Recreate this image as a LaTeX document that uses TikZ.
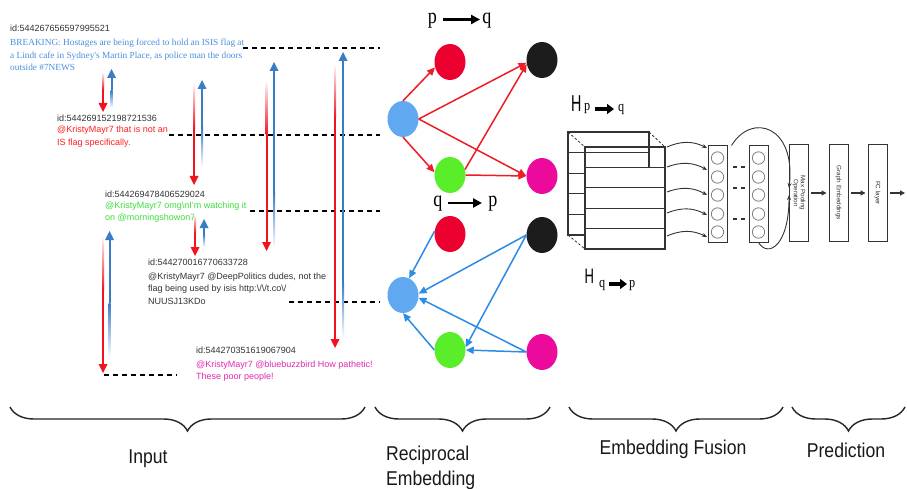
\documentclass[tikz,border=0pt]{standalone}
\usepackage{fontspec}
\usepackage{graphicx}
\setmainfont{Liberation Sans}
\newfontfamily\twserif{Liberation Serif}
\newfontfamily\gserif{Liberation Serif}[FakeStretch=0.82]
\newfontfamily\cond{Liberation Sans}[FakeStretch=0.88]
\newfontfamily\hfont{Liberation Sans}[FakeStretch=0.62]
\usetikzlibrary{arrows.meta,shapes.geometric,decorations.pathreplacing}

\definecolor{twblue}{HTML}{4A8FE0}
\definecolor{twred}{HTML}{FF1F1F}
\definecolor{twgreen}{HTML}{3FDD3F}
\definecolor{twmag}{HTML}{E02AAE}
\definecolor{idgray}{HTML}{333333}
\definecolor{arrred}{HTML}{F2131F}
\definecolor{arrblue}{HTML}{3A7CC6}
\definecolor{nred}{HTML}{EC0030}
\definecolor{nblack}{HTML}{1C1C1C}
\definecolor{nblue}{HTML}{60A8F0}
\definecolor{ngreen}{HTML}{5AEE2A}
\definecolor{nmag}{HTML}{EC0A9C}
\definecolor{edgered}{HTML}{EE1C24}
\definecolor{edgeblue}{HTML}{2B8BE6}
\definecolor{boxgray}{HTML}{333333}

% reply arrow pointing down: colour, x, tail y (top), head y (bottom)
\newcommand\fallarrow[4]{%
  \pgfmathsetmacro\fadeend{#3+min(0.45*(#4-#3),55)}%
  \shade[top color=white, bottom color=#1] ({#2-1},#3) rectangle ({#2+1},\fadeend);
  \fill[#1] ({#2-1},\fadeend) rectangle ({#2+1},{#4-8});
  \fill[#1] ({#2-4.5},{#4-9}) -- ({#2+4.5},{#4-9}) -- (#2,#4) -- cycle;
}
% reply arrow pointing up: colour, x, tail y (bottom), head y (top)
\newcommand\risearrow[4]{%
  \pgfmathsetmacro\fadeend{#3-min(0.45*(#3-#4),55)}%
  \fill[#1] ({#2-1},{#4+8}) rectangle ({#2+1},\fadeend);
  \shade[top color=#1, bottom color=white] ({#2-1},\fadeend) rectangle ({#2+1},#3);
  \fill[#1] ({#2-4.5},{#4+9}) -- ({#2+4.5},{#4+9}) -- (#2,#4) -- cycle;
}

\begin{document}
\begin{tikzpicture}[x=1pt, y=-1pt,
  idtext/.style={anchor=base west, inner sep=0pt, text=idgray, font=\fontsize{9}{11}\selectfont},
  twline/.style={anchor=base west, inner sep=0pt, font=\fontsize{9}{11}\selectfont},
  blueline/.style={anchor=base west, inner sep=0pt, text=twblue, font=\twserif\fontsize{9.3}{11}\selectfont},
  gapline/.style={line width=1.8pt, dash pattern=on 5pt off 4pt, black},
  gnode/.style={ellipse, minimum width=31pt, minimum height=36pt, inner sep=0pt},
  redge/.style={edgered, line width=1.5pt, -{Triangle[length=8pt,width=7pt]}},
  bedge/.style={edgeblue, line width=1.5pt, -{Triangle[length=8pt,width=7pt]}},
  glabel/.style={anchor=base, inner sep=0pt, font=\gserif\fontsize{22}{22}\selectfont},
  labarrow/.style={line width=2.4pt, -{Triangle[length=9pt,width=9pt]}},
  harrow/.style={line width=3.2pt, -{Triangle[length=7pt,width=10pt]}},
  stackline/.style={line width=1.1pt, boxgray},
  fusearr/.style={line width=0.9pt, boxgray, -{Stealth[length=5pt,width=4pt]}},
  col/.style={draw=boxgray, line width=1pt, minimum width=19pt, minimum height=96pt, inner sep=0pt},
  unit/.style={draw=gray, line width=0.8pt},
  layer/.style={draw=boxgray, line width=1pt, minimum width=19pt, minimum height=96pt, inner sep=0pt},
  layertext/.style={rotate=-90, align=center, inner sep=0pt, text=boxgray, font=\fontsize{6.3}{7}\selectfont},
  flowarr/.style={line width=1.2pt, boxgray, -{Triangle[length=5pt,width=5pt]}, shorten <=2pt, shorten >=2pt},
  brace/.style={decorate, decoration={brace, mirror, amplitude=24pt}, line width=1.4pt, black!85},
  stage/.style={inner sep=0pt, font=\cond\fontsize{20}{23}\selectfont, text=black!90}
]
\useasboundingbox (0,0) rectangle (907,489);
\fill[white] (0,0) rectangle (907,489);

% ---------------- conversation thread ----------------
\node[idtext] (id1) at (10,32) {id:544267656597995521};
\node[blueline] (t1a) at (10,46) {BREAKING: Hostages are being forced to hold an ISIS flag at};
\node[blueline] (t1b) at (10,58.5) {a Lindt cafe in Sydney's Martin Place, as police man the doors};
\node[blueline] (t1c) at (10,71) {outside \#7NEWS};

\node[idtext] (id2) at (57,122) {id:544269152198721536};
\node[twline, text=twred] (t2a) at (57,133) {@KristyMayr7 that is not an};
\node[twline, text=twred] (t2b) at (57,145.5) {IS flag specifically.};

\node[idtext] (id3) at (105,197) {id:544269478406529024};
\node[twline, text=twgreen] (t3a) at (105,208.5) {@KristyMayr7 omg\textbackslash nI'm watching it};
\node[twline, text=twgreen] (t3b) at (105,220) {on @morningshowon7};

\node[idtext] (id4) at (148,265.5) {id:544270016770633728};
\node[twline, text=idgray] (t4a) at (148,279) {@KristyMayr7 @DeepPolitics dudes, not the};
\node[twline, text=idgray] (t4b) at (148,291.5) {flag being used by isis http:\textbackslash/\textbackslash/t.co\textbackslash/};
\node[twline, text=idgray] (t4c) at (148,304) {NUUSJ13KDo};

\node[idtext] (id5) at (196,353) {id:544270351619067904};
\node[twline, text=twmag] (t5a) at (196,367) {@KristyMayr7 @bluebuzzbird How pathetic!};
\node[twline, text=twmag] (t5b) at (196,379.5) {These poor people!};

% dashed leaders towards the graph
\coordinate (d1) at (380,48);
\coordinate (d2) at (380,135);
\coordinate (d3) at (380,211);
\coordinate (d4) at (380,302);
\draw[gapline] (243,48) -- (d1);
\draw[gapline] (169,135) -- (d2);
\draw[gapline] (250,211) -- (d3);
\draw[gapline] (289,302) -- (d4);
\draw[gapline] (104,375) -- (177,375);

% reply / response arrows
\fallarrow{arrred}{103}{72}{112}
\risearrow{arrblue}{111.5}{108}{69}
\fallarrow{arrred}{194}{82}{185}
\risearrow{arrblue}{202}{167}{80}
\fallarrow{arrred}{266.5}{80}{251}
\risearrow{arrblue}{274}{248}{62}
\fallarrow{arrred}{335}{63}{348}
\risearrow{arrblue}{343}{338}{52}
\fallarrow{arrred}{195}{214}{256}
\risearrow{arrblue}{204}{247}{219}
\fallarrow{arrred}{103}{235}{373}
\risearrow{arrblue}{109.5}{358}{231}

% ---------------- reciprocal embedding ----------------
\node[glabel] (lp1) at (432.5,24) {p};
\node[glabel] (lq1) at (487,24) {q};
\coordinate (a1s) at (443,19.5);
\coordinate (a1e) at (480,19.5);
\draw[labarrow] (a1s) -- (a1e);

\node[gnode, fill=nred]   (r1) at (450,62) {};
\node[gnode, fill=nblack] (k1) at (542,60) {};
\node[gnode, fill=nblue]  (b1) at (403,119) {};
\node[gnode, fill=ngreen] (g1) at (450,175) {};
\node[gnode, fill=nmag]   (m1) at (542,176) {};

\draw[redge] (b1.north) -- (r1.200);
\draw[redge] (b1.south) -- (g1.170);
\draw[redge] (b1.east) -- (k1.190);
\draw[redge] (b1.east) -- (m1.west);
\draw[redge] (g1.20) -- (k1.195);
\draw[redge] (g1.east) -- (m1.west);

\node[glabel] (lq2) at (438,207) {q};
\node[glabel] (lp2) at (493,207) {p};
\coordinate (a2s) at (448,203);
\coordinate (a2e) at (482,203);
\draw[labarrow] (a2s) -- (a2e);

\node[gnode, fill=nred]   (r2) at (450,234) {};
\node[gnode, fill=nblack] (k2) at (542,235) {};
\node[gnode, fill=nblue]  (b2) at (403,295) {};
\node[gnode, fill=ngreen] (g2) at (450,350) {};
\node[gnode, fill=nmag]   (m2) at (542,352) {};

\draw[bedge] (r2.170) -- (b2.70);
\draw[bedge] (k2.west) -- (b2.5);
\draw[bedge] (k2.west) -- (g2.10);
\draw[bedge] (m2.west) -- (b2.350);
\draw[bedge] (m2.west) -- (g2.east);
\draw[bedge] (g2.west) -- (b2.south);

% ---------------- embedding fusion ----------------
\node[anchor=base west, inner sep=0pt, font=\hfont\fontsize{23}{23}\selectfont] (h1) at (571,112) {H};
\node[anchor=base west, inner sep=0pt, font=\gserif\fontsize{15}{15}\selectfont] (h1p) at (584,111) {p};
\node[anchor=base west, inner sep=0pt, font=\gserif\fontsize{15}{15}\selectfont] (h1q) at (618,112) {q};
\draw[harrow] (595,109) -- (614,109);

\node[anchor=base west, inner sep=0pt, font=\hfont\fontsize{21}{21}\selectfont] (h2) at (584.5,283) {H};
\node[anchor=base west, inner sep=0pt, font=\gserif\fontsize{15}{15}\selectfont] (h2q) at (599,287) {q};
\node[anchor=base west, inner sep=0pt, font=\gserif\fontsize{15}{15}\selectfont] (h2p) at (629,287) {p};
\draw[harrow] (609,284) -- (627,284);

% back stack of hidden states
\foreach \i in {0,...,4}
  \draw[stackline] (568,{132+20.6*\i}) rectangle (649,{152.6+20.6*\i});
% front stack
\foreach \i in {1,...,4}
  \draw[stackline, fill=white] (585,{147+20.4*\i}) rectangle (665,{167.4+20.4*\i});
\draw[stackline] (585,147) rectangle (665,167.4);
\draw[boxgray, line width=0.8pt, dash pattern=on 2.5pt off 2pt] (568,132) -- (585,147);
\draw[boxgray, line width=0.8pt, dash pattern=on 2.5pt off 2pt] (649,132) -- (665,147);
\draw[boxgray, line width=0.8pt, dash pattern=on 2.5pt off 2pt] (568,235) -- (585,249);

% unit columns
\node[col] (c1) at (717.5,194) {};
\node[col] (c2) at (758.5,194) {};
\foreach \y in {158,177,195,214,232} {
  \draw[unit] (717.5,\y) circle[radius=6.2pt];
  \draw[unit] (758.5,\y) circle[radius=6.2pt];
}
\foreach \y in {167,188,219}
  \draw[boxgray, line width=1.3pt, dash pattern=on 4pt off 4pt] (733,\y) -- (745,\y);

\foreach \ys/\ye in {147/148, 167/170, 192/195, 213/215, 236/237}
  \draw[fusearr] (667,\ys) to[bend left=25] (707,\ye);

% ---------------- prediction ----------------
\node[layer] (mp) at (799,193) {};
\node[layer] (ge) at (838.5,193) {};
\node[layer] (fc) at (877.5,193) {};
\node[layertext] (mpt) at (mp.center) {Max Pooling\\Operation};
\node[layertext] (get) at (ge.center) {Graph Embeddings};
\node[layertext] (fct) at (fc.center) {FC layer};

\draw[fusearr] ([xshift=4pt]c1.north east) .. controls (752,112) and (796,126) .. ([yshift=5pt]mp.west);
\draw[fusearr] (c2.south) .. controls (768,258) and (789,246) .. ([yshift=-2pt]mp.west);

\coordinate (out) at (907,193);
\draw[flowarr] (mp.east) -- (ge.west);
\draw[flowarr] (ge.east) -- (fc.west);
\draw[flowarr] (fc.east) -- (out);

% ---------------- stage braces ----------------
\draw[brace] (10,407) -- (365,407);
\draw[brace] (375,407) -- (550,407);
\draw[brace] (569,407) -- (783,407);
\draw[brace] (792,407) -- (905,407);

\node[stage, anchor=base] (sin) at (148,463) {Input};
\node[stage, anchor=base west] (sre1) at (386,460) {Reciprocal};
\node[stage, anchor=base west] (sre2) at (386,485) {Embedding};
\node[stage, anchor=base] (sef) at (673,454) {Embedding Fusion};
\node[stage, anchor=base] (spr) at (846,457) {Prediction};
\end{tikzpicture}
\end{document}
